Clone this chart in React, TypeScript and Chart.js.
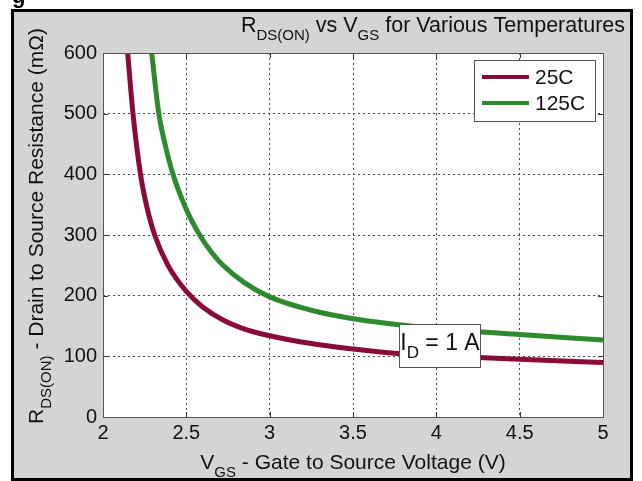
import React, { useEffect, useRef } from "react";
import { Chart, registerables } from "chart.js";

Chart.register(...registerables);

const W = 642;
const H = 481;

// On-resistance (mΩ) against gate-source voltage (V), I_D = 1 A
const vgs25 = [2.148, 2.18, 2.225, 2.26, 2.31, 2.39, 2.5, 2.6, 2.72, 2.85, 3.0, 3.25, 3.5, 3.75, 4.0, 4.5, 5.0];
const rds25 = [600, 500, 400, 350, 300, 250, 207, 181, 160, 145, 134, 121, 112, 105, 101, 95, 90];

const vgs125 = [2.292, 2.335, 2.372, 2.42, 2.5, 2.58, 2.65, 2.72, 2.85, 3.0, 3.25, 3.5, 3.75, 4.0, 4.5, 5.0];
const rds125 = [600, 500, 450, 400, 342, 300, 272, 250, 221, 198, 176, 162, 153, 146, 136, 127];

const seriesNames = ["25C", "125C"];
const seriesColors = ["#8a0a3c", "#2d8a2d"];

const xRange = [2, 5];
const xStep = 0.5;
const yRange = [0, 600];
const yStep = 100;

// Text runs: [text, isSubscript]
type Run = [string, boolean];
const titleRuns: Run[] = [["R", false], ["DS(ON)", true], [" vs V", false], ["GS", true], [" for Various Temperatures", false]];
const xTitleRuns: Run[] = [["V", false], ["GS", true], [" - Gate to Source Voltage (V)", false]];
const yTitleRuns: Run[] = [["R", false], ["DS(ON)", true], [" - Drain to Source Resistance (m\u03A9)", false]];
const noteRuns: Run[] = [["I", false], ["D", true], [" = 1 A", false]];

// Box around the test-condition note, in data units
const noteBox = { x0: 3.776, x1: 4.262, y0: 82, y1: 153 };

const FONT = "'Liberation Sans', Arial, Helvetica, sans-serif";
const FRAME_BG = "#d4d4d4";
const GRID = "#4a4a4a";

function runsWidth(ctx: CanvasRenderingContext2D, runs: Run[], size: number) {
  let w = 0;
  for (const [t, sub] of runs) {
    ctx.font = `${sub ? Math.round(size * 0.72) : size}px ${FONT}`;
    w += ctx.measureText(t).width;
  }
  return w;
}

function drawRuns(
  ctx: CanvasRenderingContext2D,
  runs: Run[],
  x: number,
  y: number,
  size: number,
  align: "left" | "center" | "right"
) {
  const w = runsWidth(ctx, runs, size);
  let cx = align === "left" ? x : align === "center" ? x - w / 2 : x - w;
  ctx.textAlign = "left";
  ctx.textBaseline = "alphabetic";
  for (const [t, sub] of runs) {
    ctx.font = `${sub ? Math.round(size * 0.72) : size}px ${FONT}`;
    ctx.fillText(t, cx, sub ? y + size * 0.36 : y);
    cx += ctx.measureText(t).width;
  }
}

const decor = {
  id: "decor",
  beforeDraw(chart: Chart) {
    const { ctx, chartArea: a } = chart;
    ctx.save();
    ctx.fillStyle = "#ffffff";
    ctx.fillRect(0, 0, W, H);
    // fragment of the caption above the figure
    ctx.fillStyle = "#000";
    ctx.font = `bold 22px ${FONT}`;
    ctx.textBaseline = "alphabetic";
    ctx.fillText("g", 12, 3);
    ctx.fillStyle = FRAME_BG;
    ctx.fillRect(12, 10, 620, 471);
    ctx.strokeStyle = "#000";
    ctx.lineWidth = 3;
    ctx.strokeRect(12.5, 10.5, 619, 469);
    ctx.fillStyle = "#ffffff";
    ctx.fillRect(a.left, a.top, a.right - a.left, a.bottom - a.top);
    ctx.restore();
  },
  afterDatasetsDraw(chart: Chart) {
    const { ctx, chartArea: a } = chart;
    const xs = chart.scales.x;
    const ys = chart.scales.y;
    ctx.save();
    ctx.setLineDash([]);
    // inward tick marks on all four sides
    ctx.strokeStyle = "#333";
    ctx.lineWidth = 1;
    ctx.beginPath();
    for (const t of xs.ticks) {
      const px = Math.round(xs.getPixelForValue(t.value)) + 0.5;
      ctx.moveTo(px, a.bottom);
      ctx.lineTo(px, a.bottom - 5);
      ctx.moveTo(px, a.top);
      ctx.lineTo(px, a.top + 5);
    }
    for (const t of ys.ticks) {
      const py = Math.round(ys.getPixelForValue(t.value)) + 0.5;
      ctx.moveTo(a.left, py);
      ctx.lineTo(a.left + 5, py);
      ctx.moveTo(a.right, py);
      ctx.lineTo(a.right - 5, py);
    }
    ctx.stroke();
    // plot box
    ctx.strokeStyle = "#555";
    ctx.strokeRect(Math.round(a.left) + 0.5, Math.round(a.top) + 0.5, Math.round(a.right - a.left), Math.round(a.bottom - a.top));

    // note box
    const bx0 = Math.round(xs.getPixelForValue(noteBox.x0)) + 0.5;
    const bx1 = Math.round(xs.getPixelForValue(noteBox.x1)) + 0.5;
    const by0 = Math.round(ys.getPixelForValue(noteBox.y1)) + 0.5;
    const by1 = Math.round(ys.getPixelForValue(noteBox.y0)) + 0.5;
    ctx.fillStyle = "#fff";
    ctx.fillRect(bx0, by0, bx1 - bx0, by1 - by0);
    ctx.strokeStyle = "#555";
    ctx.strokeRect(bx0, by0, bx1 - bx0, by1 - by0);
    ctx.fillStyle = "#111";
    drawRuns(ctx, noteRuns, (bx0 + bx1) / 2, by0 + 25, 23, "center");

    // legend
    const lx0 = 474.5, ly0 = 60.5, lw = 121, lh = 61;
    ctx.fillStyle = "#fff";
    ctx.fillRect(lx0, ly0, lw, lh);
    ctx.strokeStyle = "#555";
    ctx.strokeRect(lx0, ly0, lw, lh);
    const rows = [77, 103];
    seriesNames.forEach((name, i) => {
      ctx.strokeStyle = seriesColors[i];
      ctx.lineWidth = 4;
      ctx.beginPath();
      ctx.moveTo(482, rows[i]);
      ctx.lineTo(529, rows[i]);
      ctx.stroke();
      ctx.fillStyle = "#111";
      ctx.font = `21px ${FONT}`;
      ctx.textAlign = "left";
      ctx.textBaseline = "middle";
      ctx.fillText(name, 535, rows[i] + 1);
    });
    ctx.restore();
  },
  afterDraw(chart: Chart) {
    const { ctx, chartArea: a } = chart;
    ctx.save();
    ctx.fillStyle = "#111";
    drawRuns(ctx, titleRuns, 625, 32, 21.5, "right");
    drawRuns(ctx, xTitleRuns, (a.left + a.right) / 2, 469, 21, "center");
    ctx.translate(43, 226);
    ctx.rotate(-Math.PI / 2);
    drawRuns(ctx, yTitleRuns, 0, 0, 21, "center");
    ctx.restore();
  },
};

export default function App() {
  const ref = useRef<HTMLCanvasElement | null>(null);

  useEffect(() => {
    if (!ref.current) return;
    const toPoints = (xs: number[], ys: number[]) => xs.map((x, i) => ({ x, y: ys[i] }));
    const chart = new Chart(ref.current, {
      type: "line",
      data: {
        datasets: [
          {
            label: seriesNames[0],
            data: toPoints(vgs25, rds25),
            borderColor: seriesColors[0],
            borderWidth: 5,
            pointRadius: 0,
            cubicInterpolationMode: "monotone",
            clip: 0,
          },
          {
            label: seriesNames[1],
            data: toPoints(vgs125, rds125),
            borderColor: seriesColors[1],
            borderWidth: 5,
            pointRadius: 0,
            cubicInterpolationMode: "monotone",
            clip: 0,
          },
        ],
      },
      options: {
        responsive: false,
        animation: false,
        events: [],
        layout: { padding: { left: 0, top: 53, right: 39, bottom: 0 } },
        plugins: { legend: { display: false }, title: { display: false }, tooltip: { enabled: false } },
        scales: {
          x: {
            type: "linear",
            min: xRange[0],
            max: xRange[1],
            ticks: {
              stepSize: xStep,
              color: "#111",
              font: { family: FONT, size: 20 },
              padding: 4,
              maxRotation: 0,
              autoSkip: false,
              callback: (v: number) => String(v),
            },
            grid: { color: GRID, lineWidth: 1, drawTicks: false },
            border: { display: false, dash: [2, 3] },
            afterFit: (s: any) => {
              s.height = 64;
            },
          },
          y: {
            type: "linear",
            min: yRange[0],
            max: yRange[1],
            ticks: { stepSize: yStep, color: "#111", font: { family: FONT, size: 20 }, padding: 6 },
            grid: { color: GRID, lineWidth: 1, drawTicks: false },
            border: { display: false, dash: [2, 3] },
            afterFit: (s: any) => {
              s.width = 103;
            },
          },
        },
      },
      plugins: [decor],
    } as any);
    return () => chart.destroy();
  }, []);

  return (
    <div style={{ position: "fixed", left: 0, top: 0, width: W, height: H, background: "#fff" }}>
      <canvas ref={ref} width={W} height={H} style={{ display: "block", width: W, height: H }} />
    </div>
  );
}
